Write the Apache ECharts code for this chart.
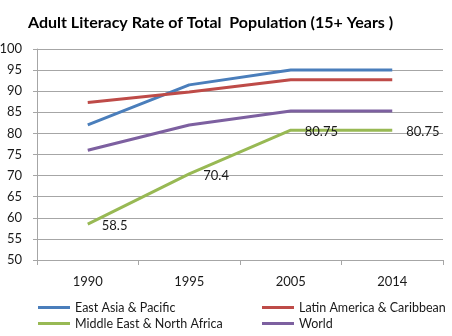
<!DOCTYPE html>
<html>
<head>
<meta charset="utf-8">
<script src="https://cdn.jsdelivr.net/npm/echarts@6/dist/echarts.min.js"></script>
<style>
  html, body { margin: 0; padding: 0; background: #fff; }
  #chart { width: 452px; height: 336px; }
</style>
</head>
<body>
<div id="chart"></div>
<script>
const years = ["1990", "1995", "2005", "2014"];
const eastAsia = [82, 91.5, 95, 95];
const latinAmerica = [87.3, 89.8, 92.7, 92.7];
const middleEast = [58.5, 70.4, 80.75, 80.75];
const world = [76, 82, 85.3, 85.3];

const FONT = "Lato";
const gridColor = "#a6a6a6";

const chart = echarts.init(document.getElementById("chart"));

// labels on a line series hang off its symbols, so keep a zero-size circle
function line(name, data, color, labelled) {
  return {
    name,
    type: "line",
    data,
    symbol: "circle",
    symbolSize: 0,
    showSymbol: labelled,
    lineStyle: { width: 3, color },
    itemStyle: { color },
    label: labelled ? {
      show: true,
      position: "right",
      distance: 14,
      offset: [0, 2],
      color: "#1a1a1a",
      fontFamily: FONT,
      fontSize: 13
    } : { show: false },
    emphasis: { disabled: true },
    animation: false
  };
}

const legendText = { color: "#1a1a1a", fontFamily: FONT, fontSize: 12.5 };
const legendBase = {
  orient: "vertical",
  top: 301,
  padding: 0,
  icon: "rect", itemWidth: 32, itemHeight: 3, itemGap: 3,
  textStyle: legendText
};

chart.setOption({
  backgroundColor: "#fff",
  title: {
    text: "Adult Literacy Rate of Total  Population (15+ Years )",
    left: 23,
    top: 10,
    textStyle: { fontFamily: FONT, fontSize: 16, fontWeight: "bold", color: "#000" }
  },
  legend: [
    Object.assign({ left: 38, data: ["East Asia & Pacific", "Middle East & North Africa"] }, legendBase),
    Object.assign({ left: 262, data: ["Latin America & Caribbean", "World"] }, legendBase)
  ],
  grid: { left: 37, right: 9, top: 49, bottom: 76, outerBoundsMode: "none" },
  xAxis: {
    type: "category",
    data: years,
    boundaryGap: true,
    axisLine: { lineStyle: { color: gridColor } },
    axisTick: { show: true, length: 5, lineStyle: { color: gridColor } },
    axisLabel: { color: "#1a1a1a", fontFamily: FONT, fontSize: 13, margin: 15 }
  },
  yAxis: {
    type: "value",
    min: 50, max: 100, interval: 5,
    axisLine: { show: true, lineStyle: { color: gridColor } },
    axisTick: { show: true, length: 4, lineStyle: { color: gridColor } },
    axisLabel: { color: "#1a1a1a", fontFamily: FONT, fontSize: 13, margin: 15 },
    splitLine: { lineStyle: { color: gridColor, width: 1 } }
  },
  series: [
    line("East Asia & Pacific", eastAsia, "#4a7ebb", false),
    line("Latin America & Caribbean", latinAmerica, "#be4b48", false),
    line("Middle East & North Africa", middleEast, "#98b954", true),
    line("World", world, "#7d60a0", false)
  ]
});
</script>
</body>
</html>
